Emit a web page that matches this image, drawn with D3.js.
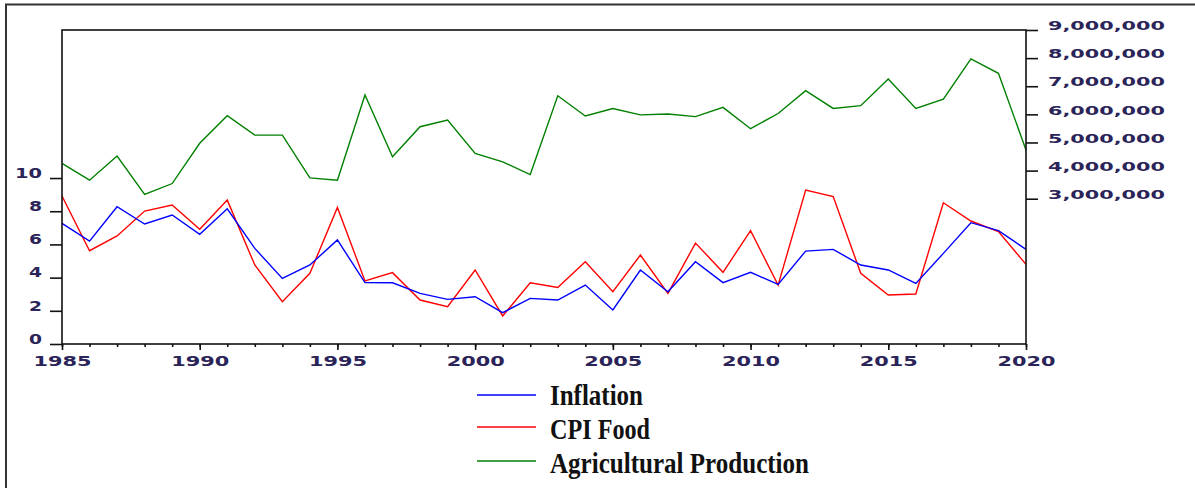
<!DOCTYPE html>
<html>
<head>
<meta charset="utf-8">
<script src="https://cdn.jsdelivr.net/npm/d3@7/dist/d3.min.js"></script>
<style>
  html, body { margin: 0; padding: 0; background: #fff; }
  svg { display: block; }
</style>
</head>
<body>
<svg id="chart" width="1195" height="488"></svg>
<script>
// ---------- data ----------
const years = d3.range(1985, 2021);
const inflation = [7.27, 6.20, 8.27, 7.23, 7.77, 6.61, 8.15, 5.76, 3.95, 4.76,
                   6.27, 3.70, 3.69, 3.05, 2.69, 2.85, 1.89, 2.75, 2.65, 3.55,
                   2.05, 4.46, 3.15, 4.96, 3.70, 4.32, 3.59, 5.60, 5.70, 4.76,
                   4.46, 3.65, 5.46, 7.31, 6.83, 5.70];
const cpiFood = [8.92, 5.62, 6.51, 8.01, 8.37, 6.91, 8.67, 4.76, 2.55, 4.26,
                 8.23, 3.80, 4.30, 2.65, 2.25, 4.46, 1.69, 3.69, 3.41, 4.96,
                 3.15, 5.36, 3.05, 6.08, 4.32, 6.83, 3.55, 9.28, 8.88, 4.26,
                 2.95, 3.01, 8.51, 7.41, 6.77, 4.80];
const agriProduction = [4256000, 3660000, 4520000, 3150000, 3540000, 4970000, 5950000, 5260000, 5260000, 3740000,
                        3660000, 6690000, 4490000, 5560000, 5800000, 4610000, 4310000, 3860000, 6660000, 5940000,
                        6210000, 5980000, 6010000, 5920000, 6250000, 5490000, 6030000, 6840000, 6210000, 6310000,
                        7260000, 6210000, 6540000, 7970000, 7460000, 4730000];
const leftTicks = [0, 2, 4, 6, 8, 10];
const rightTicks = [3000000, 4000000, 5000000, 6000000, 7000000, 8000000, 9000000];
const yearLabels = [1985, 1990, 1995, 2000, 2005, 2010, 2015, 2020];
const seriesNames = ["Inflation", "CPI Food", "Agricultural Production"];
const seriesColors = ["#0000ff", "#ff0000", "#008000"];

// ---------- layout ----------
const svg = d3.select("#chart");
const X0 = 62, X1 = 1026, Y0 = 344, Y1 = 30;
const textColor = "#2b2458";

const x = d3.scaleLinear().domain([1985, 2020]).range([X0, X1]);
const yL = d3.scaleLinear().domain([0, 18.92]).range([Y0, Y1]);
const yR = d3.scaleLinear().domain([-2167000, 9000000]).range([Y0, Y1]);

// outer border (left + top)
svg.append("path")
  .attr("d", "M6,488 L6,4.5 L1195,4.5")
  .attr("fill", "none").attr("stroke", "#333").attr("stroke-width", 2);

// ---------- lines ----------
const lineL = d3.line().x((d, i) => x(years[i])).y(d => yL(d));
const lineR = d3.line().x((d, i) => x(years[i])).y(d => yR(d));

svg.append("path").datum(agriProduction).attr("d", lineR)
  .attr("fill", "none").attr("stroke", seriesColors[2]).attr("stroke-width", 1.4);
svg.append("path").datum(cpiFood).attr("d", lineL)
  .attr("fill", "none").attr("stroke", seriesColors[1]).attr("stroke-width", 1.4);
svg.append("path").datum(inflation).attr("d", lineL)
  .attr("fill", "none").attr("stroke", seriesColors[0]).attr("stroke-width", 1.4);

// plot frame
svg.append("rect")
  .attr("x", X0).attr("y", Y1).attr("width", X1 - X0).attr("height", Y0 - Y1)
  .attr("fill", "none").attr("stroke", "#111").attr("stroke-width", 1.6);

function styleAxis(g) {
  g.select(".domain").remove();
  g.selectAll("line").attr("stroke", "#111").attr("stroke-width", 1.6);
  g.selectAll("text")
    .attr("fill", textColor)
    .attr("font-family", "DejaVu Sans, sans-serif")
    .attr("font-weight", "bold")
    .attr("lengthAdjust", "spacingAndGlyphs");
}

// left axis
const gL = svg.append("g").attr("transform", `translate(${X0},0)`)
  .call(d3.axisLeft(yL).tickValues(leftTicks).tickSize(12).tickPadding(8).tickSizeOuter(0)
        .tickFormat(d3.format("d")));
styleAxis(gL);
gL.selectAll("text").attr("font-size", 13.5).attr("dy", "-0.05em")
  .attr("textLength", function () { return this.textContent.length * 14 - 1; });

// right axis
const gR = svg.append("g").attr("transform", `translate(${X1},0)`)
  .call(d3.axisRight(yR).tickValues(rightTicks).tickSize(12).tickPadding(10).tickSizeOuter(0)
        .tickFormat(d3.format(",")));
styleAxis(gR);
gR.selectAll("text").attr("font-size", 12.5).attr("dy", "-0.02em")
  .attr("textLength", 117);

// bottom axis: minor ticks
const gBm = svg.append("g").attr("transform", `translate(0,${Y0})`)
  .call(d3.axisBottom(x).tickValues(years).tickSize(3).tickFormat("").tickSizeOuter(0));
styleAxis(gBm);
// bottom axis: major ticks + labels
const gB = svg.append("g").attr("transform", `translate(0,${Y0})`)
  .call(d3.axisBottom(x).tickValues(yearLabels).tickSize(6).tickPadding(6).tickSizeOuter(0)
        .tickFormat(d3.format("d")));
styleAxis(gB);
gB.selectAll("text").attr("font-size", 13.5).attr("dy", "0.71em")
  .attr("textLength", 58);

// ---------- legend ----------
const legY = [395, 427, 461];
const legText = [405, 438.5, 472.5];
const legLen = [93, 100, 259];
const leg = svg.append("g");
seriesNames.forEach((name, i) => {
  leg.append("line")
    .attr("x1", 477).attr("x2", 536).attr("y1", legY[i]).attr("y2", legY[i])
    .attr("stroke", seriesColors[i]).attr("stroke-width", 1.6);
  leg.append("text")
    .attr("x", 550).attr("y", legText[i])
    .attr("font-family", "Liberation Serif, Times New Roman, serif")
    .attr("font-weight", "bold")
    .attr("font-size", 29)
    .attr("fill", "#111")
    .attr("textLength", legLen[i])
    .attr("lengthAdjust", "spacingAndGlyphs")
    .text(name);
});
</script>
</body>
</html>
